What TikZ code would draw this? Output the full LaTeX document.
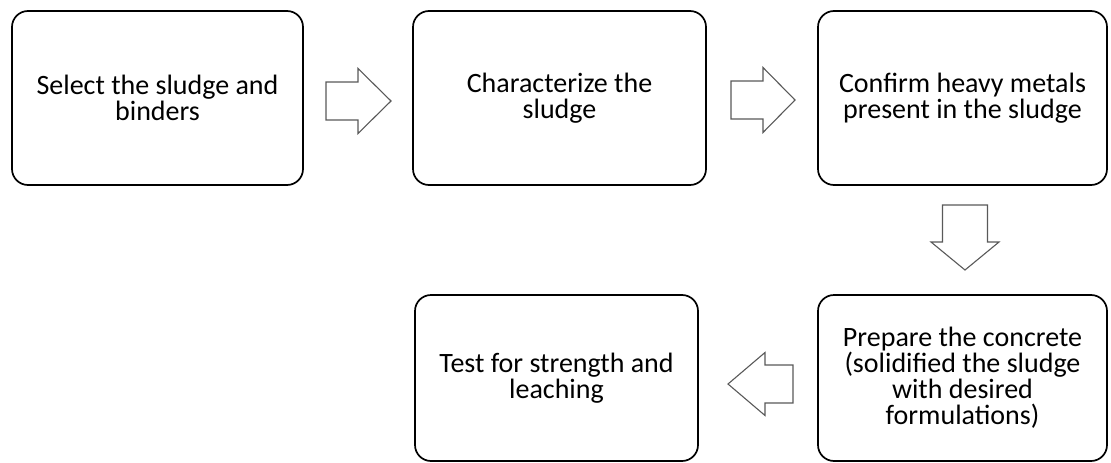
\documentclass[tikz,border=0pt]{standalone}
\usepackage{fontspec}
\setmainfont{Carlito}
\usetikzlibrary{calc}
\begin{document}
\begin{tikzpicture}[x=1pt,y=-1pt,
  stepbox/.style={draw=black, line width=1.7pt, rounded corners=16pt, fill=white,
    align=center, inner sep=0pt,
    font=\fontsize{28}{26}\selectfont, text=black},
  blockarrow/.style={draw=black!65, line width=1.1pt, fill=white, line join=miter}]
\useasboundingbox (0,0) rectangle (1111,463);
% boxes
\node[stepbox, minimum width=291, minimum height=174] (b1) at (157.5,98)
  {Select the sludge and\\binders};
\node[stepbox, minimum width=293, minimum height=174] (b2) at (559.5,98)
  {Characterize the\\sludge};
\node[stepbox, minimum width=289, minimum height=174] (b3) at (962.5,98)
  {Confirm heavy metals\\present in the sludge};
\node[stepbox, minimum width=289, minimum height=166] (b5) at (962.5,378)
  {Prepare the concrete\\(solidified the sludge\\with desired\\formulations)};
\node[stepbox, minimum width=283, minimum height=166] (b4) at (556.5,378)
  {Test for strength and\\leaching};
% block arrows
\coordinate (a1) at (326,101);
\draw[blockarrow, shift={(a1)}] (0,-19) -- (32,-19) -- (32,-32.5) -- (65,0)
  -- (32,32.5) -- (32,19) -- (0,19) -- cycle;
\coordinate (a2) at (731,100);
\draw[blockarrow, shift={(a2)}] (0,-19) -- (32,-19) -- (32,-32.5) -- (64,0)
  -- (32,32.5) -- (32,19) -- (0,19) -- cycle;
\coordinate (a3) at (965,205);
\draw[blockarrow, shift={(a3)}] (-22.5,0) -- (-22.5,37) -- (-34,37) -- (0,65)
  -- (34,37) -- (22.5,37) -- (22.5,0) -- cycle;
\coordinate (a4) at (793,384);
\draw[blockarrow, shift={(a4)}] (0,-19) -- (-28,-19) -- (-28,-31.5) -- (-65,0)
  -- (-28,31.5) -- (-28,19) -- (0,19) -- cycle;
\end{tikzpicture}
\end{document}
